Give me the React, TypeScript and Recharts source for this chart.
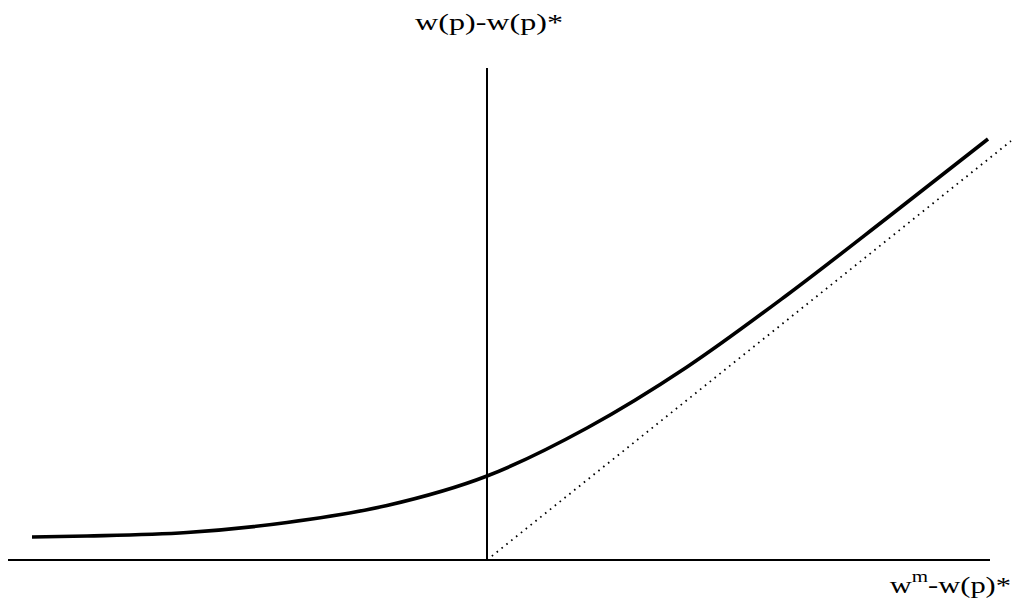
import React from "react";
import { LineChart, Line, XAxis, YAxis, ReferenceLine } from "recharts";

// Curve: w(p)-w(p)* as a function of w^m-w(p)*
const curveX = [-4.55, -4, -3, -2, -1, 0, 1, 2, 3, 4, 5.01];
const curveY = [0.23, 0.24, 0.275, 0.375, 0.545, 0.84, 1.32, 1.93, 2.65, 3.42, 4.21];

// reference ray (dotted)
const diagX = [0, 5.24];
const diagY = [0, 4.19];

// Axis extents
const hAxisFrom = -4.79;
const hAxisTo = 5.03;
const vAxisTop = 4.92;

const yLabel = "w(p)-w(p)*";
const xLabelBase = "w";
const xLabelSup = "m";
const xLabelRest = "-w(p)*";

const curveData = curveX.map((x, i) => ({ x, y: curveY[i] }));
const diagData = diagX.map((x, i) => ({ x, y: diagY[i] }));

const FONT = "'Liberation Serif', 'Times New Roman', serif";

const TopLabel = (props: any) => {
  const vb = props.viewBox || {};
  const cx = vb.x + 2;
  const by = vb.y - 38;
  return (
    <g transform={`translate(${cx},${by}) scale(1.338,1)`}>
      <text x={0} y={0} textAnchor="middle" fontFamily={FONT} fontSize={24} fill="#000">
        {yLabel}
      </text>
    </g>
  );
};

const BottomLabel = (props: any) => {
  const vb = props.viewBox || {};
  const rx = vb.x + vb.width + 21;
  const by = vb.y + 33;
  return (
    <g transform={`translate(${rx},${by}) scale(1.27,1)`}>
      <text x={0} y={0} textAnchor="end" fontFamily={FONT} fontSize={24} fill="#000">
        {xLabelBase}
        <tspan fontSize={16.5} dy={-11}>{xLabelSup}</tspan>
        <tspan dy={11}>{xLabelRest}</tspan>
      </text>
    </g>
  );
};

export default function App() {
  return (
    <div style={{ position: "absolute", left: 0, top: 0, width: 1018, height: 607, background: "#fff" }}>
      <LineChart width={1018} height={607} margin={{ top: 0, right: 0, bottom: 0, left: 0 }}>
        <XAxis type="number" dataKey="x" domain={[-4.87, 5.31]} hide allowDataOverflow />
        <YAxis type="number" dataKey="y" domain={[-0.47, 5.6]} hide width={0} allowDataOverflow />
        <ReferenceLine
          segment={[{ x: hAxisFrom, y: 0 }, { x: hAxisTo, y: 0 }]}
          stroke="#000"
          strokeWidth={2.2}
          label={<BottomLabel />}
        />
        <ReferenceLine
          segment={[{ x: 0, y: 0 }, { x: 0, y: vAxisTop }]}
          stroke="#000"
          strokeWidth={2}
          label={<TopLabel />}
        />
        <Line
          data={diagData}
          dataKey="y"
          type="linear"
          stroke="#000"
          strokeWidth={1.8}
          strokeDasharray="1.6 4.6"
          dot={false}
          activeDot={false}
          isAnimationActive={false}
        />
        <Line
          data={curveData}
          dataKey="y"
          type="monotone"
          stroke="#000"
          strokeWidth={3.6}
          dot={false}
          activeDot={false}
          isAnimationActive={false}
        />
      </LineChart>
    </div>
  );
}
